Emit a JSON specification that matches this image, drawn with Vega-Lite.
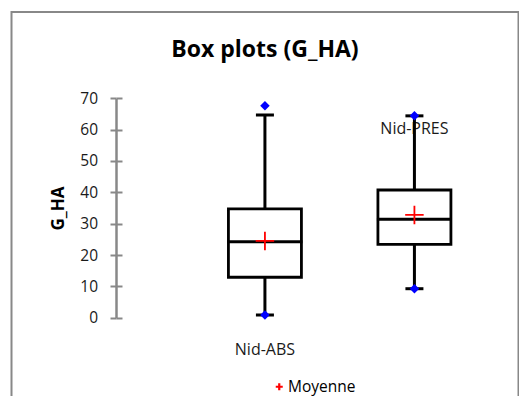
{
  "$schema": "https://vega.github.io/schema/vega-lite/v6.json",
  "width": 507,
  "height": 390,
  "autosize": {"type": "none"},
  "padding": {"left": 11.5, "top": 12, "right": 0, "bottom": 0},
  "background": "#ffffff",
  "config": {
    "font": "Open Sans",
    "view": {"stroke": "#888888", "strokeWidth": 2}
  },
  "title": {
    "text": "Box plots (G_HA)",
    "font": "Open Sans",
    "fontSize": 23,
    "fontWeight": "bold",
    "color": "#000000",
    "anchor": "middle",
    "baseline": "middle",
    "offset": -61
  },
  "data": {
    "values": [
      {"group": "Nid-ABS", "whisker_low": 0.86, "q1": 12.9, "median": 24.25, "q3": 34.7, "whisker_high": 64.7, "minimum": 0.86, "maximum": 67.6, "mean": 24.5},
      {"group": "Nid-PRES", "whisker_low": 9.25, "q1": 23.4, "median": 31.4, "q3": 40.75, "whisker_high": 64.4, "minimum": 9.25, "maximum": 64.45, "mean": 32.8}
    ]
  },
  "encoding": {
    "x": {
      "field": "group",
      "type": "nominal",
      "sort": null,
      "scale": {"paddingInner": 0, "paddingOuter": 0.6957, "align": 0.859},
      "axis": {
        "title": null,
        "domain": false,
        "ticks": false,
        "tickSize": 0,
        "offset": -84.3,
        "labelAngle": 0,
        "labelFont": "Open Sans",
        "labelFontSize": 16,
        "labelColor": "#1a1a1a",
        "labelBaseline": "middle",
        "labelPadding": {"condition": {"test": "datum.value === 'Nid-PRES'", "value": -189.4}, "value": 31.6}
      }
    }
  },
  "layer": [
    {
      "mark": {"type": "rule", "color": "#000000", "strokeWidth": 3, "opacity": 1},
      "encoding": {
        "y": {
          "field": "whisker_low",
          "type": "quantitative",
          "scale": {"domain": [0, 70], "range": [305.7, 86.3], "nice": false, "zero": false},
          "axis": {
            "orient": "left",
            "offset": -104.5,
            "values": [0, 10, 20, 30, 40, 50, 60, 70],
            "grid": false,
            "domainColor": "#888888",
            "domainWidth": 2.5,
            "tickColor": "#888888",
            "tickWidth": 2,
            "tickSize": 6,
            "labelFont": "Open Sans",
            "labelFontSize": 15.5,
            "labelColor": "#1a1a1a",
            "labelPadding": 12.5,
            "title": "G_HA",
            "titleFont": "Open Sans",
            "titleFontSize": 17,
            "titleFontWeight": "bold",
            "titleColor": "#000000",
            "titlePadding": 12
          }
        },
        "y2": {"field": "whisker_high"}
      }
    },
    {
      "mark": {"type": "bar", "fill": "#ffffff", "stroke": "#000000", "strokeWidth": 2.8, "width": 73, "opacity": 1},
      "encoding": {
        "y": {"field": "q1", "type": "quantitative", "axis": null},
        "y2": {"field": "q3"}
      }
    },
    {
      "mark": {"type": "tick", "color": "#000000", "thickness": 3, "size": 75, "opacity": 1},
      "encoding": {
        "y": {"field": "median", "type": "quantitative", "axis": null}
      }
    },
    {
      "transform": [{"fold": ["whisker_low", "whisker_high"], "as": ["end", "value"]}],
      "mark": {"type": "tick", "color": "#000000", "thickness": 3, "size": 18, "opacity": 1},
      "encoding": {
        "y": {
          "field": "value",
          "type": "quantitative",
          "axis": {
            "orient": "right",
            "offset": -402.5,
            "values": [0, 10, 20, 30, 40, 50, 60, 70],
            "grid": false,
            "domain": false,
            "labels": false,
            "title": null,
            "tickColor": "#888888",
            "tickWidth": 2,
            "tickSize": 6
          }
        }
      }
    },
    {
      "transform": [{"fold": ["minimum", "maximum"], "as": ["extreme", "value"]}],
      "mark": {"type": "point", "shape": "diamond", "filled": true, "color": "#0000ff", "opacity": 1, "size": 90},
      "encoding": {
        "y": {"field": "value", "type": "quantitative", "axis": null}
      }
    },
    {
      "mark": {"type": "point", "shape": "M-1,0H1M0,-1V1", "filled": false, "strokeWidth": 1.8, "opacity": 1, "size": 342},
      "encoding": {
        "y": {"field": "mean", "type": "quantitative", "axis": null},
        "color": {
          "datum": "Moyenne",
          "type": "nominal",
          "scale": {"range": ["#ff0000"]},
          "legend": {
            "title": null,
            "orient": "none",
            "legendX": 260,
            "legendY": 367,
            "symbolType": "M-1,0H1M0,-1V1",
            "symbolSize": 49,
            "symbolStrokeWidth": 2.2,
            "labelFont": "Open Sans",
            "labelFontSize": 15.5,
            "labelColor": "#000000",
            "labelOffset": 1
          }
        }
      }
    }
  ],
  "resolve": {"axis": {"y": "independent"}}
}
